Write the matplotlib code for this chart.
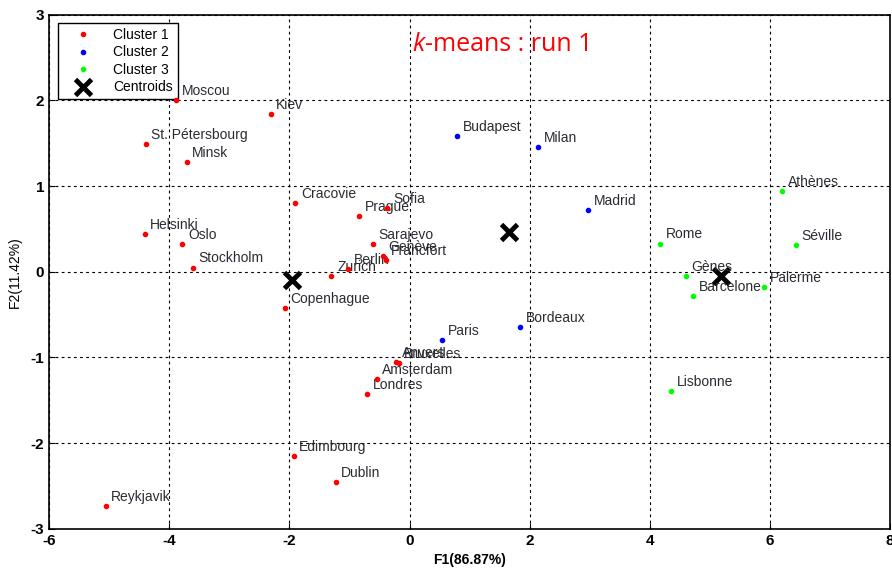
import matplotlib
matplotlib.use('Agg')
import matplotlib.pyplot as plt

#%% Plot features
font_size = 10
rc = {'font.size': font_size, 'axes.labelsize': font_size, 'legend.fontsize': font_size,
      'xtick.labelsize': font_size, 'ytick.labelsize': font_size,
      'font.family': ['Liberation Sans', 'DejaVu Sans'], 'axes.unicode_minus': False}
plt.rcParams.update(**rc)

#%% Data
# cluster 1
c1_names = ['Moscou', 'Kiev', 'St. Pétersbourg', 'Minsk', 'Cracovie', 'Prague', 'Sofia',
            'Sarajevo', 'Genève', 'Francfort', 'Berlin', 'Zurich', 'Helsinki', 'Oslo',
            'Stockholm', 'Copenhague', 'Anvers', 'Bruxelles', 'Amsterdam', 'Londres',
            'Edimbourg', 'Dublin', 'Reykjavik']
c1_x = [-3.88, -2.31, -4.39, -3.71, -1.90, -0.84, -0.37, -0.61, -0.45, -0.40, -1.02, -1.30,
        -4.41, -3.78, -3.61, -2.08, -0.22, -0.18, -0.55, -0.70, -1.93, -1.23, -5.06]
c1_y = [2.00, 1.84, 1.49, 1.28, 0.80, 0.65, 0.74, 0.32, 0.18, 0.14, 0.03, -0.05,
        0.44, 0.32, 0.05, -0.42, -1.05, -1.07, -1.25, -1.43, -2.15, -2.46, -2.74]
# cluster 2
c2_names = ['Budapest', 'Milan', 'Madrid', 'Paris', 'Bordeaux']
c2_x = [0.79, 2.14, 2.97, 0.54, 1.84]
c2_y = [1.59, 1.46, 0.72, -0.80, -0.65]
# cluster 3
c3_names = ['Athènes', 'Séville', 'Rome', 'Gènes', 'Barcelone', 'Palerme', 'Lisbonne']
c3_x = [6.20, 6.43, 4.17, 4.60, 4.72, 5.90, 4.35]
c3_y = [0.94, 0.31, 0.33, -0.05, -0.28, -0.18, -1.39]
# centroids
cent_x = [-1.96, 1.65, 5.18]
cent_y = [-0.10, 0.47, -0.05]

clusters = [(c1_names, c1_x, c1_y, '#ff0000', 'Cluster 1'),
            (c2_names, c2_x, c2_y, '#0000ff', 'Cluster 2'),
            (c3_names, c3_x, c3_y, '#00ff00', 'Cluster 3')]

fig = plt.figure(figsize=(8.92, 5.71), dpi=100)
ax = fig.add_axes([0.055, 0.074, 0.943, 0.900])

for names, xs, ys, col, lab in clusters:
    ax.plot(xs, ys, linestyle='none', marker='.', markersize=6, color=col, label=lab,
            zorder=6)
    for n, x, y in zip(names, xs, ys):
        ax.annotate(n, (x, y), xytext=(4, 1.5), textcoords='offset points',
                    fontsize=10, color='#2b2b33', va='bottom', ha='left')

ax.plot(cent_x, cent_y, linestyle='none', marker='x', markersize=11, mew=3.5,
        color='black', label='Centroids')

ax.set_xlim(-6, 8)
ax.set_ylim(-3, 3)
ax.set_xticks(range(-6, 9, 2))
ax.set_yticks(range(-3, 4))
ax.grid(True, color='black', linestyle=(0, (2.5, 3)), linewidth=0.8)
ax.tick_params(direction='in', length=4, width=0.8, labelsize=11)
for lbl in ax.get_xticklabels() + ax.get_yticklabels():
    lbl.set_fontweight('bold')
for sp in ax.spines.values():
    sp.set_linewidth(1.2)

ax.set_xlabel('F1(86.87%)', fontweight='bold', labelpad=4)
ax.set_ylabel('F2(11.42%)', labelpad=6)

leg = ax.legend(loc='upper left', bbox_to_anchor=(0.006, 0.992), fancybox=False,
                framealpha=1, edgecolor='black', handletextpad=0.8, borderpad=0.35,
                labelspacing=0.25, handlelength=2.8, borderaxespad=0.3)
leg.get_frame().set_linewidth(1.0)

# title inside the plot, k in italics
t1 = ax.text(0.432, 0.917, 'k', transform=ax.transAxes, fontsize=18, color='#ff0000',
             style='italic', family='Open Sans', va='bottom', ha='left')
ax.annotate('-means : run 1', xy=(1, 0), xycoords=t1, fontsize=18, color='#ff0000',
            family='Open Sans', va='bottom', ha='left')

plt.savefig('out.png', dpi=100)
plt.close(fig)
